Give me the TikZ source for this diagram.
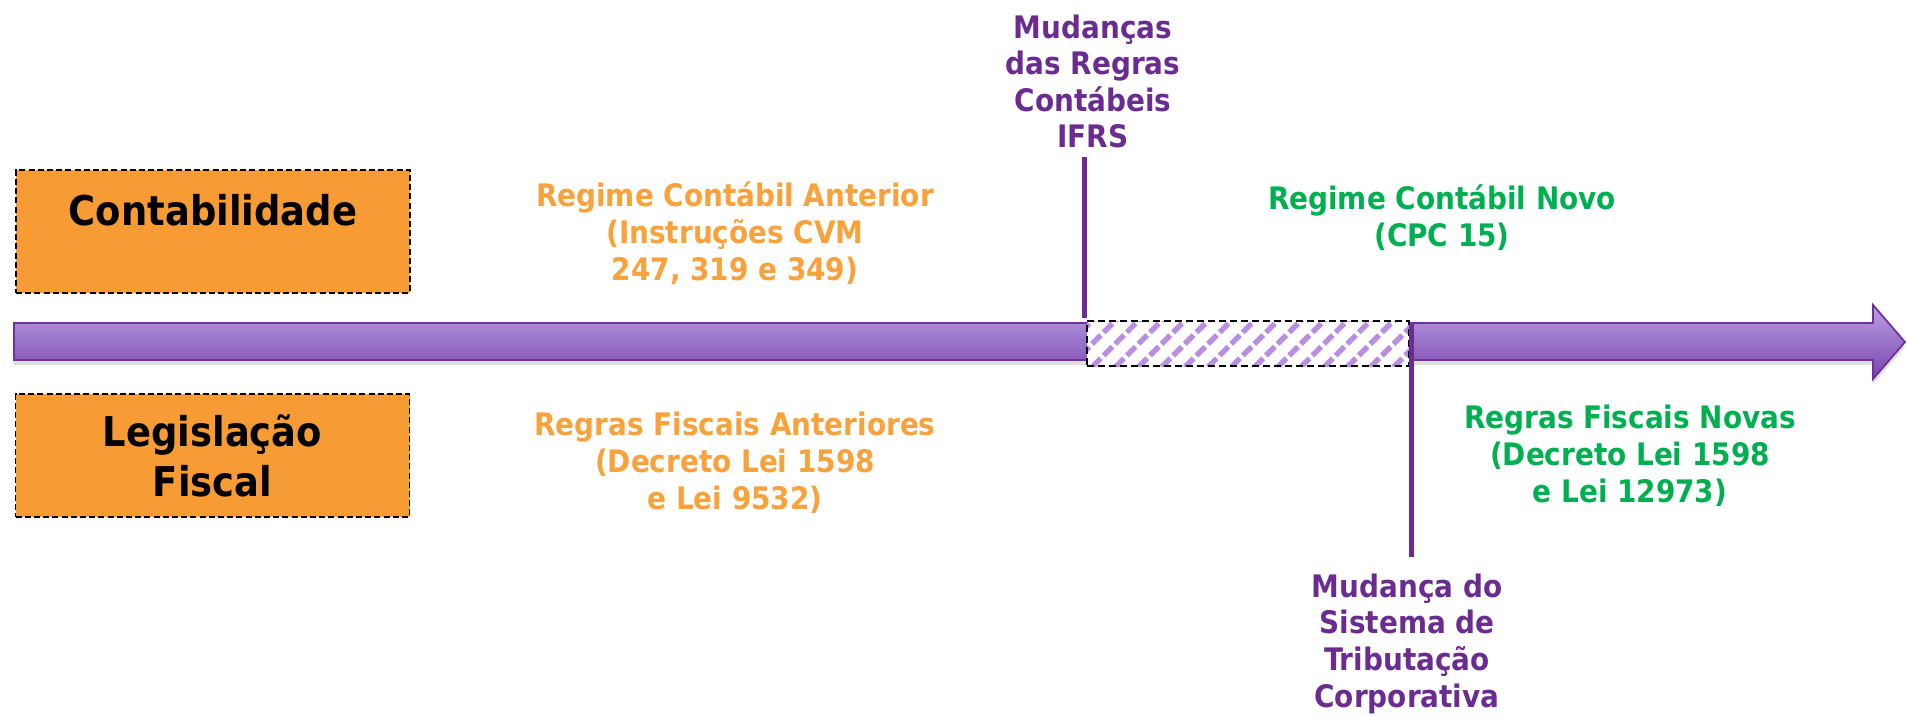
\documentclass[tikz,border=0pt]{standalone}
\usepackage{fontspec}
\setmainfont{DejaVu Sans Condensed}
\usepackage{xcolor}
\usetikzlibrary{patterns.meta,shadows}

\definecolor{boxorange}{HTML}{F79C34}
\definecolor{txtorange}{HTML}{F9A13A}
\definecolor{txtgreen}{HTML}{00B050}
\definecolor{txtpurple}{HTML}{6A2C91}
\definecolor{arrtop}{HTML}{BBA0E3}
\definecolor{arrbot}{HTML}{7845AC}
\definecolor{arredge}{HTML}{7030A0}
\definecolor{hatchcol}{HTML}{B88EE3}

\begin{document}
\begin{tikzpicture}[x=0.5pt,y=-0.5pt,
    lbl/.style={align=center, anchor=base, inner sep=4pt,
      font=\bfseries\fontsize{15.5}{18.3}\selectfont},
    catbox/.style={draw, line width=0.8pt, dash pattern=on 3pt off 1.6pt,
      fill=boxorange, inner sep=0pt, minimum width=197pt, align=center,
      font=\bfseries\fontsize{20.5}{25}\selectfont},
    markline/.style={draw=txtpurple, line width=2.6pt}]
    \useasboundingbox (0,0) rectangle (1907,717);

    % the time axis
    \path[drop shadow={opacity=0.25, shadow xshift=0pt, shadow yshift=-2.5pt},
      draw=arredge, line width=0.9pt, top color=arrtop, bottom color=arrbot]
      (14,323) -- (1873,323) -- (1873,305) -- (1905,342) -- (1873,379)
      -- (1873,360) -- (14,360) -- cycle;

    \node[catbox, text height=27.5pt, text depth=34pt] (cont) at (213,231.5) {Contabilidade};
    \node[catbox, minimum height=61.5pt] (leg) at (212.5,455.5) {Legisla\c{c}\~ao\\Fiscal};

    % transition period
    \node[draw, line width=0.9pt, dash pattern=on 3.5pt off 2pt,
      preaction={fill=white},
      pattern={Lines[angle=45, distance=8.2pt, line width=2.7pt]}, pattern color=hatchcol,
      minimum width=161pt, minimum height=22.5pt, inner sep=0pt] (h) at (1248,343.5) {};

    \node[lbl, txtorange] (ant) at (735,280) {Regime Cont\'abil Anterior\\(Instru\c{c}\~oes CVM\\247, 319 e 349)};
    \node[lbl, txtgreen] (novo) at (1442,246) {Regime Cont\'abil Novo\\(CPC 15)};
    \node[lbl, txtorange] (fant) at (735,509) {Regras Fiscais Anteriores\\(Decreto Lei 1598\\e Lei 9532)};
    \node[lbl, txtgreen] (fnovo) at (1630,502) {Regras Fiscais Novas\\(Decreto Lei 1598\\e Lei 12973)};

    \node[lbl, txtpurple] (ifrs) at (1093,148) {Mudan\c{c}as\\das Regras\\Cont\'abeis\\IFRS};
    \node[lbl, txtpurple, inner sep=8pt] (trib) at (1407,707) {Mudan\c{c}a do\\Sistema de\\Tributa\c{c}\~ao\\Corporativa};

    \draw[markline] (h.north west) -- (h.north west |- ifrs.south);
    \draw[markline] ([yshift=-3pt]h.north east) -- (h.north east |- trib.north);
\end{tikzpicture}
\end{document}
